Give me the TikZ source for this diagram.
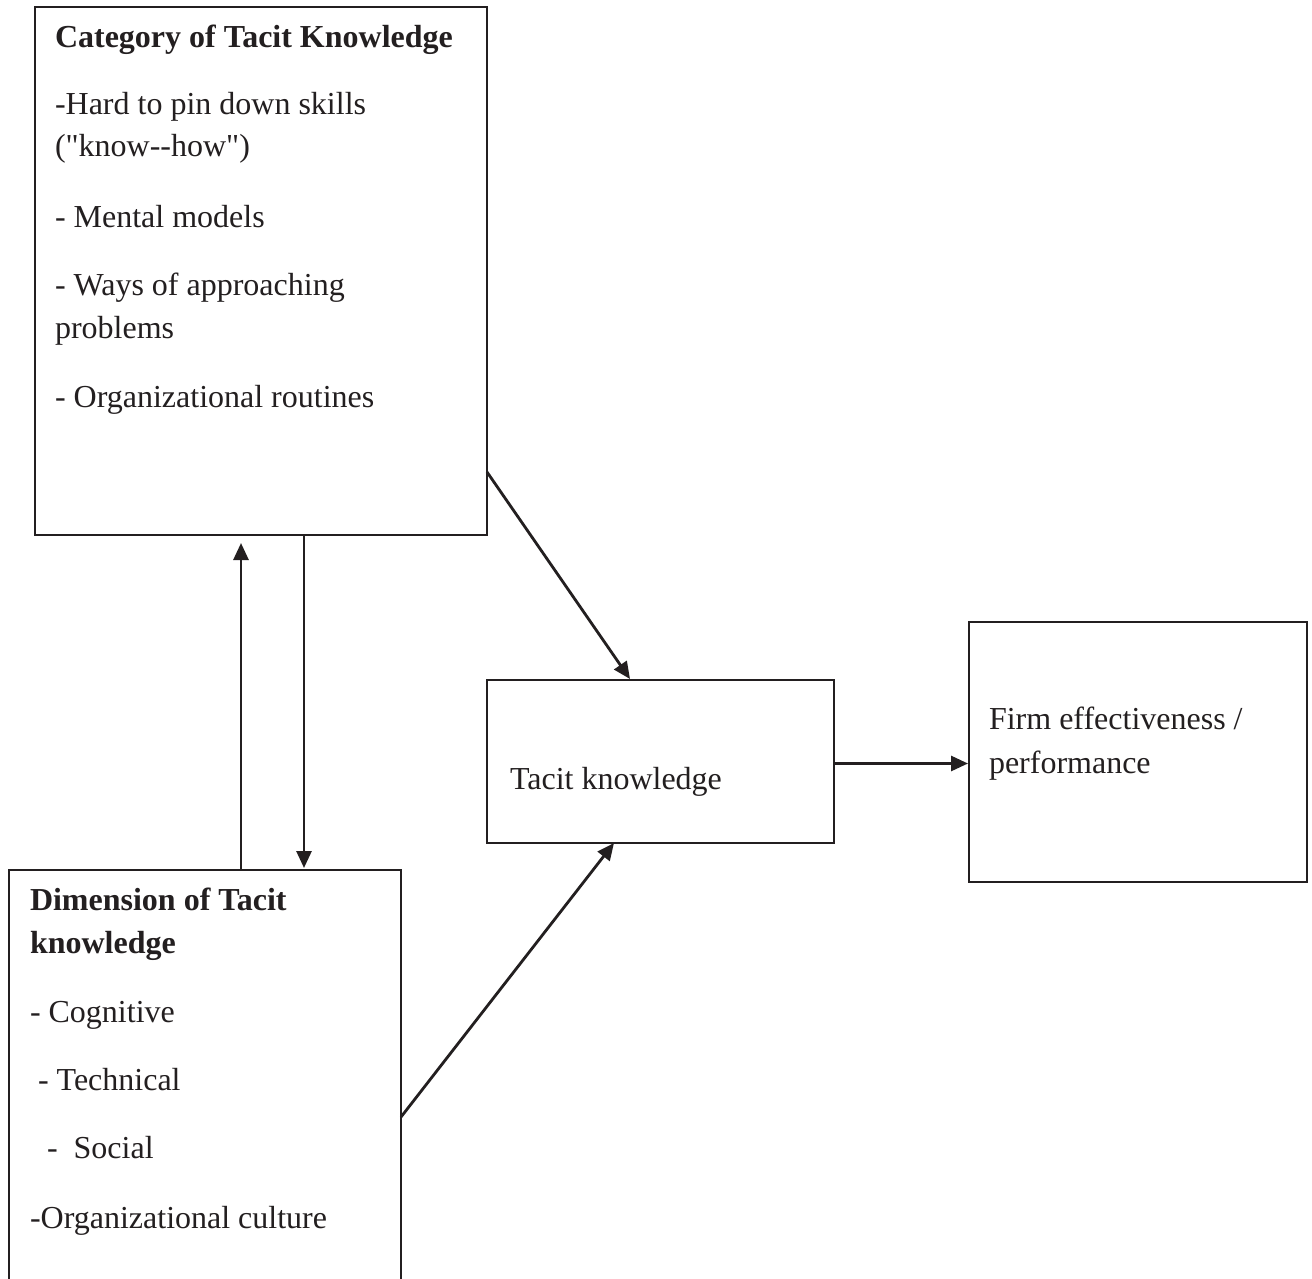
\documentclass[tikz,border=0pt]{standalone}
\usepackage{fontspec}
\setmainfont{Liberation Serif}[Ligatures=TeXOff]
\usetikzlibrary{arrows.meta,calc}
\definecolor{ink}{HTML}{231F20}
\tikzset{
  box/.style={draw=ink, line width=2.5pt, rectangle, inner sep=0pt, outer sep=0pt, anchor=north west},
  txt/.style={inner sep=0pt, outer sep=0pt, anchor=base west, text=ink, font=\fontsize{32}{42}\selectfont},
  btxt/.style={txt, font=\fontsize{32}{42}\selectfont\bfseries},
  conn/.style={draw=ink, line width=2.8pt, -{Triangle[length=17pt,width=15pt]}}
}
\begin{document}
\begin{tikzpicture}[x=1pt,y=-1pt]
\clip (0,0) rectangle (1312,1279);
\fill[white] (0,0) rectangle (1312,1279);
% boxes
\node[box, minimum width=452pt, minimum height=528pt] (cat) at (35,7) {};
\node[box, minimum width=392pt, minimum height=440pt] (dim) at (9,870) {};
\node[box, minimum width=347pt, minimum height=163pt] (tk) at (487,680) {};
\node[box, minimum width=338pt, minimum height=260pt] (fp) at (969,622) {};
% category text
\node[btxt] (c0) at (55,48) {Category of Tacit Knowledge};
\node[txt] (c1) at (55,115) {-Hard to pin down skills};
\node[txt] (c2) at (55,157) {("know--how")};
\node[txt] (c3) at (55,227) {- Mental models};
\node[txt] (c4) at (55,295) {- Ways of approaching};
\node[txt] (c5) at (55,338) {problems};
\node[txt] (c6) at (55,407) {- Organizational routines};
% dimension text
\node[btxt] (d0) at (30,910) {Dimension of Tacit};
\node[btxt] (d1) at (30,953) {knowledge};
\node[txt] (d2) at (30,1022) {- Cognitive};
\node[txt] (d3) at (38,1090) {- Technical};
\node[txt] (d4) at (47,1158) {-\hspace{0.5em}Social};
\node[txt] (d5) at (30,1228) {-Organizational culture};
% tacit knowledge
\node[txt] (t0) at (510,789) {Tacit knowledge};
% firm
\node[txt] (f0) at (989,729) {Firm effectiveness /};
\node[txt] (f1) at (989,773) {performance};
% connectors
\draw[conn] ($(dim.north west)+(232,0)$) -- ($(cat.south west)+(206,8)$);
\draw[conn] ($(cat.south west)+(269,0)$) -- ($(dim.north west)+(295,-2)$);
\draw[conn] ($(cat.south east)+(0,-63)$) -- ($(tk.north west)+(143,-1)$);
\draw[conn] ($(dim.north east)+(0,247)$) -- ($(tk.south west)+(127,0)$);
\draw[conn] ($(tk.east)+(0,2)$) -- ($(tk.east -| fp.west)+(-1,2)$);
\end{tikzpicture}
\end{document}
